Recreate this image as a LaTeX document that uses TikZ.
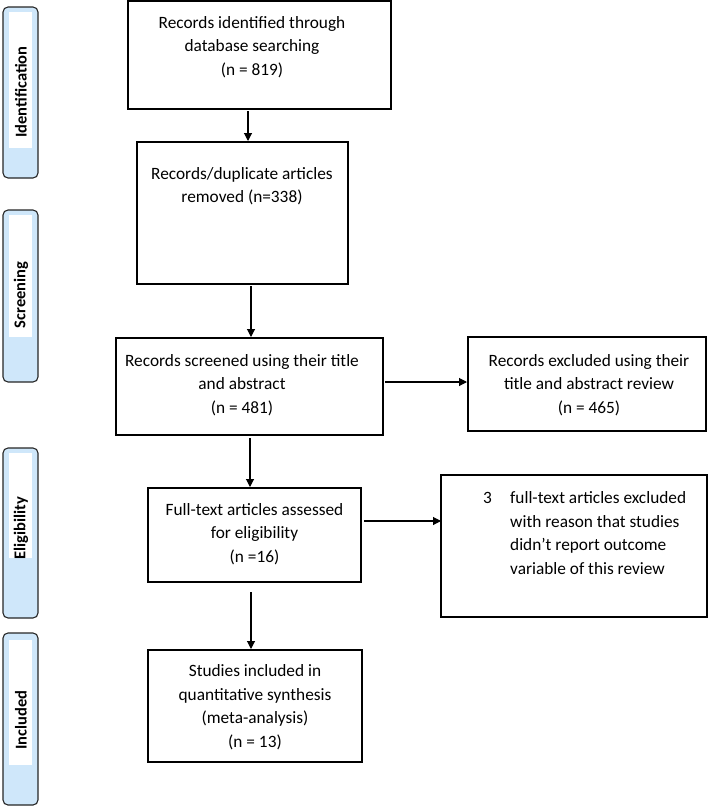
\documentclass[tikz,border=0pt]{standalone}
\usepackage{fontspec}
\setmainfont{Carlito}
\usetikzlibrary{arrows.meta}
\definecolor{barblue}{RGB}{207,231,250}
\begin{document}
\begin{tikzpicture}[x=1pt,y=-1pt,
  boxline/.style={draw=black,line width=1.2pt},
  txt/.style={inner sep=0pt,align=center,font=\fontsize{17.3}{23.5}\selectfont},
  sidebar/.style={draw=black!85,line width=1.1pt,fill=barblue,rounded corners=5pt},
  sidetxt/.style={inner sep=0pt,rotate=90,font=\fontsize{16.5}{18}\selectfont\bfseries},
  arr/.style={line width=1.1pt,-{Triangle[length=8pt,width=8pt]}}]
\useasboundingbox (0,0) rectangle (710,806);

% side bars
\draw[sidebar] (3,7) rectangle (38,178);
\fill[white] (9,12) rectangle (32,148);
\node[sidetxt] (idt) at (21,92) {Identification};
\draw[sidebar] (3,210) rectangle (38,382);
\fill[white] (9,215) rectangle (32,337);
\node[sidetxt] (scr) at (21,295) {Screening};
\draw[sidebar] (3,448) rectangle (38,618);
\fill[white] (9,453) rectangle (32,558);
\node[sidetxt] (elg) at (21,528) {Eligibility};
\draw[sidebar] (3,633) rectangle (38,805);
\fill[white] (9,640) rectangle (32,765);
\node[sidetxt] (inc) at (21,720) {Included};

% boxes
\draw[boxline] (128,1) rectangle (391,109);
\node[txt] (t1) at (252,47) {Records identified through\\database searching\\(n = 819)};

\draw[boxline] (137,142) rectangle (348,284);
\node[txt] (t2) at (242,186) {Records/duplicate articles\\removed (n=338)};

\draw[boxline] (116,338) rectangle (383,435);
\node[txt] (t3) at (242,385) {Records screened using their title\\and abstract\\(n = 481)};

\draw[boxline] (468,337) rectangle (706,431);
\node[txt] (t4) at (589,385) {Records excluded using their\\title and abstract review\\(n = 465)};

\draw[boxline] (148,488) rectangle (361,582);
\node[txt] (t5) at (254.5,534) {Full-text articles assessed\\for eligibility\\(n =16)};

\draw[boxline] (441,475) rectangle (707,617);
\node[txt,align=left,anchor=west] (t6) at (483,533) {\makebox[27pt][l]{3}full-text articles excluded\\\hspace*{27pt}with reason that studies\\\hspace*{27pt}didn’t report outcome\\\hspace*{27pt}variable of this review};

\draw[boxline] (148,650) rectangle (362,762);
\node[txt] (t7) at (255,707) {Studies included in\\quantitative synthesis\\(meta-analysis)\\(n = 13)};

% connector points
\coordinate (a1s) at (248,111);
\coordinate (a1e) at (248,141);
\coordinate (a2s) at (251,286);
\coordinate (a2e) at (251,337);
\coordinate (a3s) at (385,382);
\coordinate (a3e) at (467,382);
\coordinate (a4s) at (250,438);
\coordinate (a4e) at (250,487);
\coordinate (a5s) at (364,521);
\coordinate (a5e) at (441,521);
\coordinate (a6s) at (251,592);
\coordinate (a6e) at (251,649);
\draw[arr] (a1s) -- (a1e);
\draw[arr] (a2s) -- (a2e);
\draw[arr] (a3s) -- (a3e);
\draw[arr] (a4s) -- (a4e);
\draw[arr] (a5s) -- (a5e);
\draw[arr] (a6s) -- (a6e);
\end{tikzpicture}
\end{document}
